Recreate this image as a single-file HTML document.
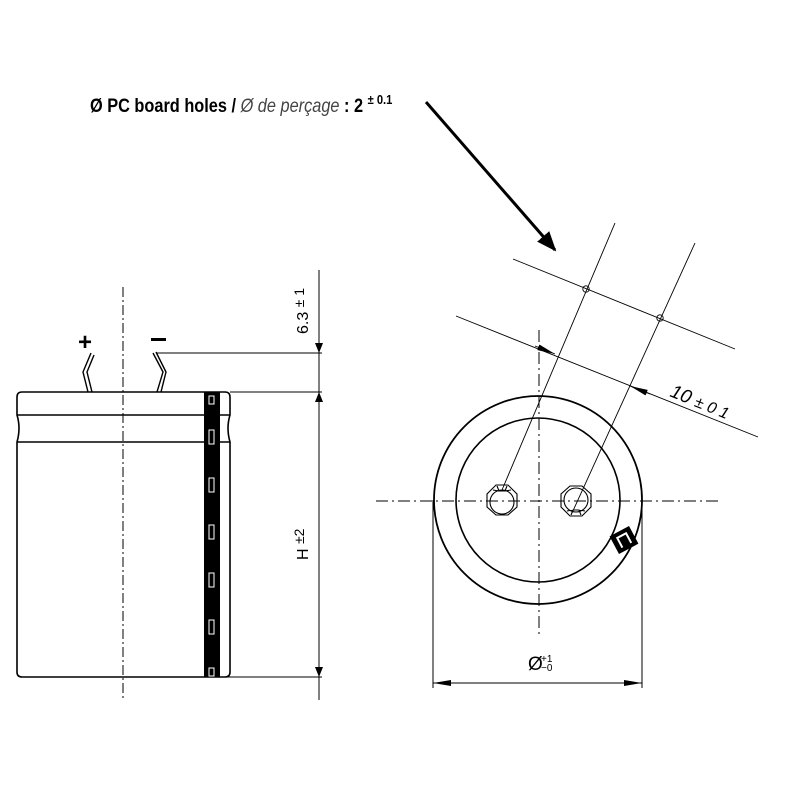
<!DOCTYPE html>
<html><head><meta charset="utf-8"><style>
html,body{margin:0;padding:0;background:#fff;}
svg{display:block;}
</style></head><body>
<svg width="800" height="800" viewBox="0 0 800 800" xmlns="http://www.w3.org/2000/svg" font-family="Liberation Sans, sans-serif">
<defs>
<marker id="ah" markerWidth="10" markerHeight="8" refX="10" refY="4" orient="auto" markerUnits="userSpaceOnUse"><path d="M0,0 L10,4 L0,8 Z" fill="#000"/></marker>
<marker id="ahs" markerWidth="18" markerHeight="6" refX="18" refY="3" orient="auto" markerUnits="userSpaceOnUse"><path d="M0,0 L18,3 L0,6 Z" fill="#000"/></marker>
<marker id="big" markerWidth="20" markerHeight="16" refX="18" refY="8" orient="auto" markerUnits="userSpaceOnUse"><path d="M0,0 L20,8 L0,16 Z" fill="#000"/></marker>
</defs>
<!-- title -->
<text x="90" y="112" font-size="19" font-weight="bold" transform="scale(0.86,1)" transform-origin="90 112">Ø PC board holes / <tspan font-weight="normal" font-style="italic" fill="#444">Ø de perçage</tspan> : 2 <tspan font-size="13" dy="-8">± 0.1</tspan></text>
<line x1="426" y1="102" x2="555" y2="250" stroke="#000" stroke-width="3" marker-end="url(#big)"/>

<!-- LEFT VIEW -->
<line x1="123" y1="287" x2="123" y2="700" stroke="#000" stroke-width="1" stroke-dasharray="10,3,2,3"/>
<!-- leads -->
<path d="M91,353 L83,372 L88,392" fill="none" stroke="#000" stroke-width="1.4"/>
<path d="M94,355 L87,372 L92,392" fill="none" stroke="#000" stroke-width="1.4"/>
<path d="M153,353 L163,372 L157,392" fill="none" stroke="#000" stroke-width="1.4"/>
<path d="M156,352 L166,372 L161,392" fill="none" stroke="#000" stroke-width="1.4"/>
<text x="78" y="350" font-size="24" font-weight="bold">+</text>
<rect x="151" y="338" width="15" height="3" fill="#000"/>
<!-- body -->
<path d="M22,392 L225,392 Q230,392 230,397 L230,415 Q226,428 230,442 L230,672 Q230,677 225,677 L22,677 Q17,677 17,672 L17,442 Q21,428 17,415 L17,397 Q17,392 22,392 Z" fill="none" stroke="#000" stroke-width="1.6"/>
<line x1="17" y1="415" x2="230" y2="415" stroke="#000" stroke-width="1.4"/>
<line x1="17" y1="442" x2="230" y2="442" stroke="#000" stroke-width="1.4"/>
<rect x="204" y="392" width="16" height="285" fill="#000"/>
<g fill="none" stroke="#fff" stroke-width="1">
<rect x="209" y="396" width="5" height="8"/>
<rect x="209" y="430" width="5" height="14"/>
<rect x="209" y="478" width="5" height="14"/>
<rect x="209" y="525" width="5" height="14"/>
<rect x="209" y="573" width="5" height="14"/>
<rect x="209" y="620" width="5" height="14"/>
<rect x="209" y="668" width="5" height="8"/>
</g>
<!-- dims -->
<line x1="319" y1="270" x2="319" y2="700" stroke="#000" stroke-width="1"/>
<line x1="157" y1="353" x2="322" y2="353" stroke="#000" stroke-width="1"/>
<line x1="230" y1="392" x2="322" y2="392" stroke="#000" stroke-width="1"/>
<line x1="180" y1="677" x2="322" y2="677" stroke="#000" stroke-width="1"/>
<line x1="319" y1="320" x2="319" y2="353" stroke="#000" stroke-width="1" marker-end="url(#ah)"/>
<line x1="319" y1="530" x2="319" y2="392" stroke="#000" stroke-width="1" marker-end="url(#ah)"/>
<line x1="319" y1="530" x2="319" y2="677" stroke="#000" stroke-width="1" marker-end="url(#ah)"/>
<text transform="translate(308,334) rotate(-90)" font-size="16">6.3 <tspan font-size="14" dy="-4">± 1</tspan></text>
<text transform="translate(308,560) rotate(-90)" font-size="16">H <tspan font-size="14" dy="-4">±2</tspan></text>

<!-- RIGHT VIEW -->
<line x1="376" y1="501" x2="718" y2="501" stroke="#000" stroke-width="1" stroke-dasharray="12,4,2,4"/>
<line x1="539" y1="330" x2="539" y2="636" stroke="#000" stroke-width="1" stroke-dasharray="12,4,2,4"/>
<circle cx="538" cy="500" r="104" fill="none" stroke="#000" stroke-width="1.8"/>
<circle cx="538" cy="500" r="82" fill="none" stroke="#000" stroke-width="1.6"/>
<!-- polarity mark -->
<g transform="translate(624,540) rotate(-28)">
<rect x="-11" y="-10" width="22" height="20" fill="#000"/>
<path d="M-5,6 L-5,-5 L5,-5 L5,6" fill="none" stroke="#fff" stroke-width="2"/>
</g>
<!-- holes -->
<g fill="none" stroke="#000" stroke-width="1.1">
<polygon points="496,485 508,485 517,494 517,507 508,515 496,515 487,507 487,494"/>
<circle cx="502" cy="502" r="12"/>
<path d="M497,486 L499,491 L505,491 L507,486 M493,490 L499,491 M511,490 L505,491"/>
<polygon points="570,486 582,486 591,494 591,507 582,516 570,516 561,507 561,494"/>
<circle cx="576" cy="500" r="12"/>
<path d="M571,515 L573,510 L579,510 L581,515 M567,511 L573,510 M585,511 L579,510"/>
</g>
<!-- pitch lines -->
<g stroke="#000" stroke-width="0.9" fill="none">
<line x1="615" y1="223" x2="502" y2="490"/>
<line x1="695" y1="243" x2="572" y2="513"/>
<line x1="513" y1="259" x2="735" y2="349"/>
<line x1="456" y1="316" x2="758" y2="437"/>
<circle cx="586" cy="289" r="3.2"/>
<circle cx="660" cy="318" r="3.2"/>
</g>
<line x1="535" y1="346" x2="555" y2="354" stroke="#000" stroke-width="0.9" marker-end="url(#ahs)"/>
<line x1="650" y1="394" x2="630" y2="386" stroke="#000" stroke-width="0.9" marker-end="url(#ahs)"/>
<text transform="translate(669,396) rotate(22)" font-size="19" font-style="italic">10 <tspan font-size="16">± 0 1</tspan></text>
<!-- diameter dim -->
<line x1="433" y1="500" x2="433" y2="688" stroke="#000" stroke-width="1"/>
<line x1="642" y1="500" x2="642" y2="688" stroke="#000" stroke-width="1"/>
<line x1="538" y1="683" x2="433" y2="683" stroke="#000" stroke-width="1" marker-end="url(#ahs)"/>
<line x1="538" y1="683" x2="642" y2="683" stroke="#000" stroke-width="1" marker-end="url(#ahs)"/>
<text x="528" y="670" font-size="19">Ø</text>
<text x="541" y="662" font-size="10">+1</text>
<text x="541" y="671" font-size="10">−0</text>
</svg>
</body></html>
